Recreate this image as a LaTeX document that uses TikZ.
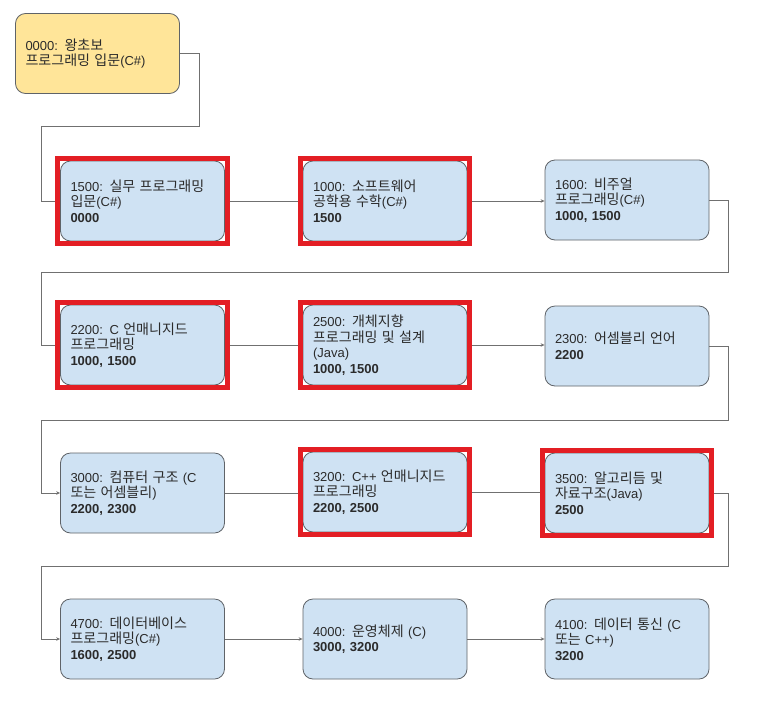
\documentclass[tikz,border=0pt]{standalone}
\usepackage{fontspec}
\setmainfont{Liberation Sans}
\newfontfamily\krfont[Scale=1.08]{Noto Sans CJK KR}
\newcommand\kr[1]{{\krfont #1}}
\usetikzlibrary{fit,arrows.meta}
\definecolor{boxblue}{HTML}{CFE2F3}
\definecolor{boxyellow}{HTML}{FFE599}
\definecolor{boxborder}{HTML}{5F6368}
\definecolor{linegray}{HTML}{707070}
\definecolor{markred}{HTML}{E31E24}
\definecolor{textcol}{HTML}{2B2B2B}
\begin{document}
\begin{tikzpicture}[x=1pt,y=-1pt,
  course/.style={draw=boxborder, rounded corners=10pt, fill=boxblue,
    minimum width=164pt, minimum height=80pt, text width=144pt,
    inner xsep=10pt, inner ysep=3pt, align=left,
    font=\fontsize{13}{15.5}\selectfont, text=textcol, line width=0.8pt},
  startcourse/.style={course, fill=boxyellow},
  redframe/.style={draw=markred, line width=5pt, inner sep=2.5pt, rectangle},
  link/.style={draw=linegray, line width=0.8pt, -{Stealth[length=4pt,width=3.5pt]}}]
\useasboundingbox (0,0) rectangle (762,704);
\fill[white] (0,0) rectangle (762,704);

\node[startcourse] (n0000) at (97.5,53.5) {0000: \kr{왕초보}\\\kr{프로그래밍 입문}(C\#)};

\node[course] (n1500) at (142.5,201) {1500: \kr{실무 프로그래밍}\\\kr{입문}(C\#)\\\textbf{0000}};
\node[course] (n1000) at (385,201) {1000: \kr{소프트웨어}\\\kr{공학용 수학}(C\#)\\\textbf{1500}};
\node[course] (n1600) at (627,200) {1600: \kr{비주얼}\\\kr{프로그래밍}(C\#)\\\textbf{1000, 1500}};

\node[course] (n2200) at (142.5,345) {2200: C \kr{언매니지드}\\\kr{프로그래밍}\\\textbf{1000, 1500}};
\node[course] (n2500) at (385,345) {2500: \kr{개체지향}\\\kr{프로그래밍 및 설계}\\(Java)\\\textbf{1000, 1500}};
\node[course] (n2300) at (627,346) {2300: \kr{어셈블리 언어}\\\textbf{2200}};

\node[course] (n3000) at (142.5,493) {3000: \kr{컴퓨터 구조} (C\\\kr{또는 어셈블리})\\\textbf{2200, 2300}};
\node[course] (n3200) at (385,492) {3200: C++ \kr{언매니지드}\\\kr{프로그래밍}\\\textbf{2200, 2500}};
\node[course] (n3500) at (627,493) {3500: \kr{알고리듬 및}\\\kr{자료구조}(Java)\\\textbf{2500}};

\node[course] (n4700) at (142.5,639) {4700: \kr{데이터베이스}\\\kr{프로그래밍}(C\#)\\\textbf{1600, 2500}};
\node[course] (n4000) at (385,639) {4000: \kr{운영체제} (C)\\\textbf{3000, 3200}};
\node[course] (n4100) at (627,639) {4100: \kr{데이터 통신} (C\\\kr{또는} C++)\\\textbf{3200}};

\draw[link] (n0000.east) -| (199,126) -- (41,126) |- (n1500.west);
\draw[link] (n1500) -- (n1000);
\draw[link] (n1000.east) -- (n1600.west |- n1000.east);
\draw[link] (n1600.east) -| (728,272) -- (41,272) |- (n2200.west);
\draw[link] (n2200) -- (n2500);
\draw[link] (n2500.east) -- (n2300.west |- n2500.east);
\draw[link] (n2300.east) -| (728,420) -- (41,420) |- (n3000.west);
\draw[link] (n3000.east) -- (n3200.west |- n3000.east);
\draw[link] (n3200.east) -- (n3500.west |- n3200.east);
\draw[link] (n3500.east) -| (728,566) -- (41,566) |- (n4700.west);
\draw[link] (n4700) -- (n4000);
\draw[link] (n4000) -- (n4100);

\node[redframe, fit=(n1500)] (f1500) {};
\node[redframe, fit=(n1000)] (f1000) {};
\node[redframe, fit=(n2200)] (f2200) {};
\node[redframe, fit=(n2500)] (f2500) {};
\node[redframe, fit=(n3200)] (f3200) {};
\node[redframe, fit=(n3500)] (f3500) {};
\end{tikzpicture}
\end{document}
